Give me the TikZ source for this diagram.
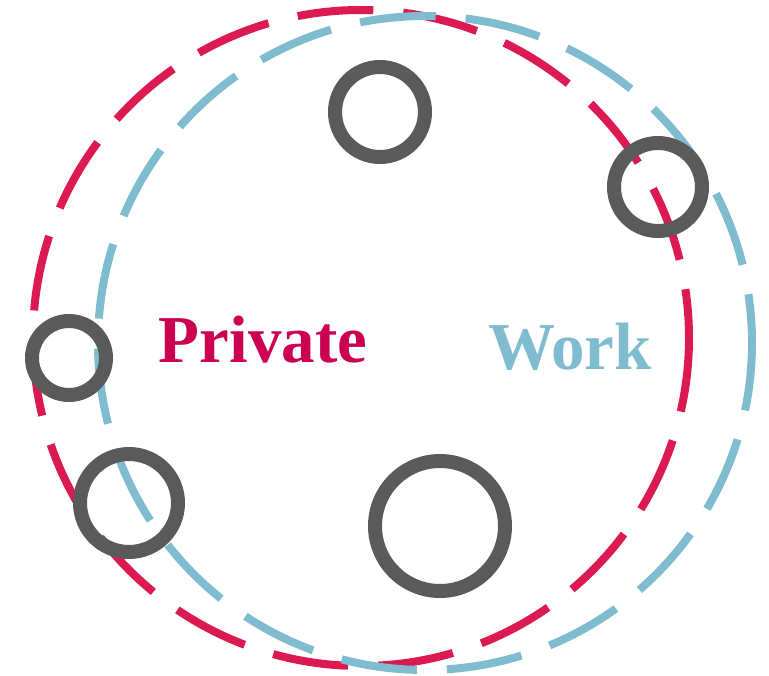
\documentclass[tikz,border=0pt]{standalone}
\usepackage{fontspec}
\setmainfont{Liberation Serif}
\usetikzlibrary{positioning}

\definecolor{privred}{HTML}{DC1A52}
\definecolor{privtext}{HTML}{CC0052}
\definecolor{workblue}{HTML}{80BCD0}
\definecolor{ringgray}{HTML}{5A5A5A}

\begin{document}
\begin{tikzpicture}[
    x=1pt, y=-1pt,
    group/.style={line width=8pt, dash pattern=on 76pt off 30pt, dash phase=27pt},
    contact/.style={circle, draw=ringgray, line width=14pt, inner sep=0pt},
    label/.style={font=\bfseries\fontsize{67}{67}\selectfont, anchor=base}
]
\useasboundingbox (0,0) rectangle (769,676);

% the two groups
\coordinate (pc) at (361,338);
\coordinate (wc) at (425,343);
\draw[group, privred] (pc) circle (328pt);
\draw[group, workblue] (wc) circle (327pt);

% contacts
\node[contact, minimum size=90pt]  (c1) at (380,112) {};
\node[contact, minimum size=88pt]  (c2) at (658,187) {};
\node[contact, minimum size=74pt]  (c3) at (69,358) {};
\node[contact, minimum size=98pt]  (c4) at (129,503) {};
\node[contact, minimum size=130pt] (c5) at (440,526) {};

\node[label, text=privtext] (private) at (263,363) {Private};
\node[label, text=workblue] (work) at (570,370) {Work};

\end{tikzpicture}
\end{document}
